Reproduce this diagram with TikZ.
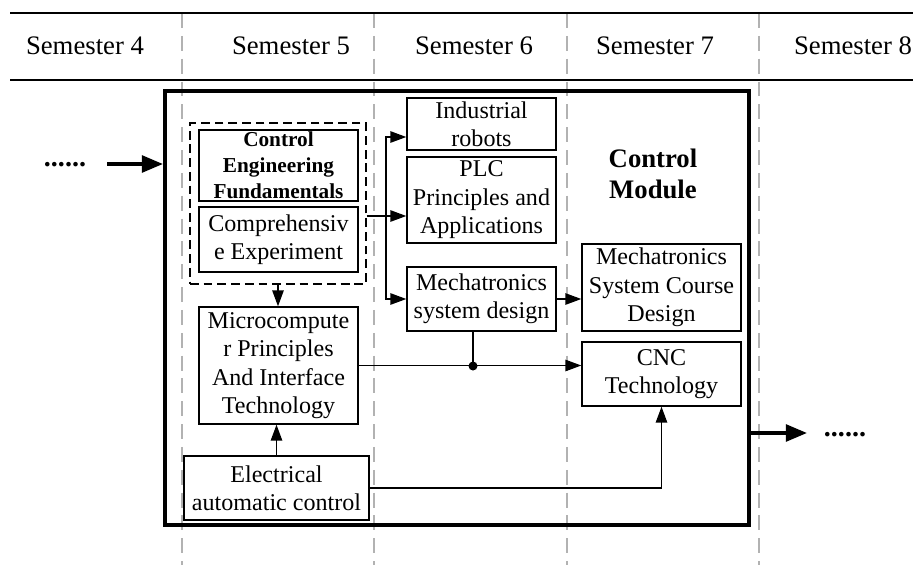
\documentclass[tikz,border=0pt]{standalone}
\usepackage{fontspec}
\setmainfont{Liberation Serif}
\usetikzlibrary{arrows.meta}

\begin{document}
\begin{tikzpicture}[x=0.02cm,y=-0.02cm,
course/.style={
	% The shape:
	rectangle,inner sep=0pt,
	% The border:
	draw,line width=0.85pt,fill=white,
	% Font
	align=center,font=\fontsize{13.7}{16.2}\selectfont},
boxsize/.style 2 args={minimum width=#1*0.02cm,minimum height=#2*0.02cm},
semester/.style={anchor=base,font=\fontsize{15.2}{18}\selectfont},
term/.style={gray!60,line width=0.8pt,dash pattern=on 8.5pt off 4.5pt},
link/.style={line width=0.7pt,-{Triangle[length=9pt,width=6.5pt]}},
bigarrow/.style={line width=2pt,-{Triangle[length=12pt,width=9.5pt]}},
dots/.style={anchor=base,font=\bfseries\fontsize{16}{18}\selectfont}]

\useasboundingbox (0,0) rectangle (913,565);

% Semester columns
\draw[term] (182,13) -- (182,565);
\draw[term] (374,13) -- (374,565);
\draw[term] (567,13) -- (567,565);
\draw[term] (759,13) -- (759,565);
\draw[line width=1.3pt] (10,13) -- (913,13);
\draw[line width=1.3pt] (10,80) -- (913,80);
\node (sem4) [semester] at (85,54) {Semester 4};
\node (sem5) [semester] at (291,54) {Semester 5};
\node (sem6) [semester] at (474,54) {Semester 6};
\node (sem7) [semester] at (655,54) {Semester 7};
\node (sem8) [semester] at (853,54) {Semester 8};

% The module frame
\node (module) [draw,line width=2.3pt,boxsize={584}{434}] at (457,308) {};
\node (modtitle) [align=center,font=\bfseries\fontsize{15.2}{17.6}\selectfont] at (653,173.5) {Control\\Module};

% Courses
\node (ctrlgroup) [draw,line width=0.7pt,dash pattern=on 5pt off 2.8pt,boxsize={176}{161}] at (278,203.5) {};
\node (ctrlfund) [course,boxsize={159}{71},font=\bfseries\fontsize{12.1}{14.8}\selectfont] at (278.5,165.5) {Control\\Engineering\\Fundamentals};
\node (compexp) [course,boxsize={159}{65}] at (278.5,239.5) {Comprehensiv\\e Experiment};
\node (microcomp) [course,boxsize={159}{117}] at (278.5,365.5) {Microcompute\\r Principles\\And Interface\\Technology};
\node (elecctrl) [course,boxsize={185}{64}] at (276.5,488) {Electrical\\automatic control};
\node (indrobot) [course,boxsize={149}{52}] at (481.5,124) {Industrial\\robots};
\node (plc) [course,boxsize={149}{86}] at (481.5,200) {PLC\\Principles and\\Applications};
\node (mechdesign) [course,boxsize={149}{64}] at (481.5,299) {Mechatronics\\system design};
\node (mechcourse) [course,boxsize={159}{87}] at (661.5,287.5) {Mechatronics\\System Course\\Design};
\node (cnc) [course,boxsize={159}{64}] at (661.5,374) {CNC\\Technology};

% Links
\coordinate (split) at (386,216);
\coordinate (jn) at (473,366);
\draw[link] (ctrlgroup.south) -- (ctrlgroup.south |- microcomp.north);
\draw[link] (elecctrl.north) -- (elecctrl.north |- microcomp.south);
\draw[line width=0.7pt] (ctrlgroup.east |- split) -- (split);
\draw[link] (split) -- (plc.west |- split);
\draw[link] (split) |- ([yshift=-7.4pt]indrobot.west);
\draw[link] (split) |- (mechdesign.west);
\draw[link] (mechdesign.east) -- (mechdesign.east -| mechcourse.west);
\draw[link] (microcomp.east) -- (microcomp.east -| cnc.west);
\draw[line width=0.7pt] (mechdesign.south -| jn) -- (jn);
\fill (jn) circle[radius=0.09cm];
\draw[link] (elecctrl.east) -| (cnc.south);

% In and out of the module
\coordinate (instart) at (107,164);
\coordinate (outend) at (807,433);
\node (dotsin) [dots] at (65,166) {......};
\draw[bigarrow] (instart) -- (instart -| module.west);
\draw[bigarrow] (module.east |- outend) -- (outend);
\node (dotsout) [dots] at (845,436) {......};

\end{tikzpicture}
\end{document}
